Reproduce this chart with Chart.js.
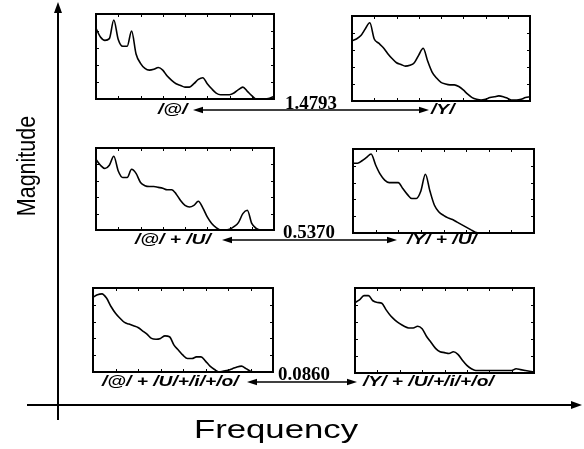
<!DOCTYPE html>
<html>
<head>
<meta charset="utf-8">
<script src="https://cdn.jsdelivr.net/npm/chart.js@4.4.1/dist/chart.umd.min.js"></script>
<style>
  html, body { margin: 0; padding: 0; background: #fff; }
  #wrap { position: relative; width: 584px; height: 449px; overflow: hidden; }
  #wrap canvas { position: absolute; }
</style>
</head>
<body>
<div id="wrap">
  <canvas id="frame" width="584" height="449" style="left:0;top:0"></canvas>
  <canvas id="p1"></canvas>
  <canvas id="p2"></canvas>
  <canvas id="p3"></canvas>
  <canvas id="p4"></canvas>
  <canvas id="p5"></canvas>
  <canvas id="p6"></canvas>
</div>
<script>
// frequency bins shared by all six spectra
const freqBins = [0,1,2,3,4,5,6,7,8,9,10,11,12,13,14,15,16,17,18,19,20,
  21,22,23,24,25,26,27,28,29,30,31,32,33,34,35,36,37,38,39,40];

// normalised magnitude, left column (/@/ ...)
const magAt = [0.83,0.73,0.69,0.71,0.93,0.70,0.62,0.62,0.80,0.53,0.42,0.36,0.34,0.35,0.37,0.34,
  0.27,0.22,0.18,0.16,0.14,0.14,0.18,0.23,0.25,0.18,0.12,0.07,0.05,0.05,0.05,0.07,0.11,0.14,
  0.09,0.04,0.0,0.0,0.0,0.01,0.03];
const magAtU = [0.86,0.79,0.75,0.79,0.90,0.72,0.64,0.64,0.74,0.69,0.58,0.54,0.53,0.53,0.52,0.51,
  0.49,0.49,0.44,0.36,0.30,0.28,0.30,0.35,0.27,0.16,0.08,0.03,0.0,0.0,0.01,0.04,0.09,0.20,
  0.24,0.08,0.02,0.0,0.0,0.0,0.0];
const magAtUio = [0.89,0.92,0.93,0.88,0.78,0.70,0.64,0.59,0.57,0.55,0.53,0.49,0.45,0.40,0.39,0.40,
  0.43,0.42,0.32,0.26,0.20,0.16,0.16,0.18,0.18,0.13,0.07,0.03,0.0,0.01,0.02,0.04,0.06,0.07,
  0.04,0.01,0.0,0.0,0.0,0.0,0.0];

// normalised magnitude, right column (/Y/ ...)
const magY = [0.71,0.73,0.77,0.85,0.92,0.73,0.68,0.63,0.56,0.50,0.45,0.43,0.41,0.42,0.45,0.54,
  0.62,0.47,0.34,0.27,0.22,0.20,0.19,0.19,0.17,0.13,0.08,0.04,0.02,0.01,0.02,0.04,0.05,0.06,
  0.05,0.03,0.01,0.01,0.02,0.04,0.05];
const magYU = [0.83,0.83,0.86,0.90,0.94,0.81,0.70,0.63,0.60,0.60,0.60,0.53,0.46,0.41,0.41,0.50,
  0.70,0.50,0.33,0.25,0.21,0.18,0.16,0.13,0.10,0.07,0.04,0.01,0.0,0.0,0.0,0.0,0.0,0.0,
  0.0,0.0,0.0,0.0,0.0,0.0,0.0];
const magYUio = [0.83,0.86,0.91,0.91,0.85,0.83,0.82,0.74,0.67,0.62,0.58,0.55,0.53,0.53,0.55,0.52,
  0.43,0.36,0.29,0.25,0.24,0.23,0.25,0.22,0.15,0.09,0.05,0.03,0.03,0.03,0.03,0.03,0.03,0.03,
  0.03,0.03,0.05,0.04,0.03,0.02,0.01];

const leftLabels = ['/@/', '/@/ + /U/', '/@/ + /U/+/i/+/o/'];
const rightLabels = ['/Y/', '/Y/ + /U/', '/Y/ + /U/+/i/+/o/'];
const distances = ['1.4793', '0.5370', '0.0860'];
const yTickValues = [0.2, 0.4, 0.6, 0.8];

// panel boxes (plot frame in page pixels)
const panels = [
  { id: 'p1', x: 96,  y: 14,  w: 178, h: 85, values: magAt },
  { id: 'p2', x: 352, y: 16,  w: 178, h: 85, values: magY },
  { id: 'p3', x: 96,  y: 148, w: 178, h: 82, values: magAtU },
  { id: 'p4', x: 353, y: 149, w: 181, h: 84, values: magYU },
  { id: 'p5', x: 93,  y: 288, w: 180, h: 84, values: magAtUio },
  { id: 'p6', x: 355, y: 288, w: 179, h: 85, values: magYUio }
];

// box + inward ticks
const boxTicks = {
  id: 'boxTicks',
  afterDatasetsDraw(chart) {
    const { ctx, chartArea: a, scales } = chart;
    ctx.save();
    ctx.strokeStyle = '#000';
    ctx.lineWidth = 1;
    ctx.beginPath();
    for (let i = 5; i < freqBins.length - 1; i += 5) {
      const px = Math.round(scales.x.getPixelForValue(i)) + 0.5;
      ctx.moveTo(px, a.top); ctx.lineTo(px, a.top + 3);
      ctx.moveTo(px, a.bottom); ctx.lineTo(px, a.bottom - 3);
    }
    yTickValues.forEach(v => {
      const py = Math.round(scales.y.getPixelForValue(v)) + 0.5;
      ctx.moveTo(a.left, py); ctx.lineTo(a.left + 3, py);
      ctx.moveTo(a.right, py); ctx.lineTo(a.right - 3, py);
    });
    ctx.stroke();
    ctx.lineWidth = 2;
    ctx.strokeRect(a.left, a.top, a.right - a.left, a.bottom - a.top);
    ctx.restore();
  }
};

panels.forEach(p => {
  const cv = document.getElementById(p.id);
  cv.width = p.w + 4; cv.height = p.h + 4;
  cv.style.left = (p.x - 2) + 'px';
  cv.style.top = (p.y - 2) + 'px';
  new Chart(cv, {
    type: 'line',
    data: {
      labels: freqBins,
      datasets: [{ data: p.values, borderColor: '#000', borderWidth: 1.6, pointRadius: 0,
        cubicInterpolationMode: 'monotone', fill: false }]
    },
    options: {
      responsive: false, animation: false,
      layout: { padding: 2 },
      plugins: { legend: { display: false }, tooltip: { enabled: false } },
      scales: {
        x: { display: false, offset: false },
        y: { display: false, min: 0, max: 1 }
      }
    },
    plugins: [boxTicks]
  });
});

function stretchText(ctx, txt, x, y, font, sx, align) {
  ctx.save();
  ctx.font = font;
  ctx.textAlign = align || 'left';
  ctx.translate(x, y);
  ctx.scale(sx, 1);
  ctx.fillText(txt, 0, 0);
  ctx.restore();
}

function arrowHead(ctx, x, y, dx, dy, len, half) {
  // tip at (x,y), pointing along (dx,dy)
  const nx = -dy, ny = dx;
  ctx.beginPath();
  ctx.moveTo(x, y);
  ctx.lineTo(x - dx * len + nx * half, y - dy * len + ny * half);
  ctx.lineTo(x - dx * len - nx * half, y - dy * len - ny * half);
  ctx.closePath();
  ctx.fill();
}

function doubleArrow(ctx, x1, x2, y) {
  ctx.lineWidth = 1.5;
  ctx.beginPath();
  ctx.moveTo(x1 + 6, y); ctx.lineTo(x2 - 6, y);
  ctx.stroke();
  arrowHead(ctx, x1, y, -1, 0, 10, 3.2);
  arrowHead(ctx, x2, y, 1, 0, 10, 3.2);
}

// rows: arrow ends, label positions
const rows = [
  { ay: 110, ax1: 193, ax2: 429, lx: 158, rx: 431, numX: 311, numY: 109 },
  { ay: 240, ax1: 222, ax2: 397, lx: 135, rx: 407, numX: 309, numY: 238 },
  { ay: 382, ax1: 247, ax2: 357, lx: 102, rx: 363, numX: 304, numY: 380 }
];

const frameDecor = {
  id: 'frameDecor',
  afterDraw(chart) {
    const ctx = chart.ctx;
    ctx.save();
    ctx.fillStyle = '#000';
    ctx.strokeStyle = '#000';

    // main axes
    ctx.lineWidth = 2;
    ctx.beginPath();
    ctx.moveTo(58, 420); ctx.lineTo(58, 10);
    ctx.moveTo(27, 405); ctx.lineTo(574, 405);
    ctx.stroke();
    arrowHead(ctx, 58, 2, 0, -1, 11, 4);
    arrowHead(ctx, 582, 405, 1, 0, 11, 4);

    // axis titles
    stretchText(ctx, 'Frequency', 276, 438, '25px "Liberation Sans", Arial, sans-serif', 1.39, 'center');
    ctx.save();
    ctx.translate(35, 166);
    ctx.rotate(-Math.PI / 2);
    ctx.scale(0.86, 1);
    ctx.font = '25px "Liberation Sans", Arial, sans-serif';
    ctx.textAlign = 'center';
    ctx.fillText('Magnitude', 0, 0);
    ctx.restore();

    // comparison rows
    rows.forEach((r, i) => {
      doubleArrow(ctx, r.ax1, r.ax2, r.ay);
      ctx.textBaseline = 'middle';
      stretchText(ctx, leftLabels[i], r.lx, r.ay, 'italic bold 15px "Liberation Sans", Arial, sans-serif', 1.28, 'left');
      stretchText(ctx, rightLabels[i], r.rx, r.ay, 'italic bold 15px "Liberation Sans", Arial, sans-serif', 1.28, 'left');
      ctx.textBaseline = 'alphabetic';
      stretchText(ctx, distances[i], r.numX, r.numY, 'bold 18px "Liberation Serif", "Times New Roman", serif', 1.05, 'center');
    });
    ctx.restore();
  }
};

new Chart(document.getElementById('frame'), {
  type: 'scatter',
  data: { datasets: [] },
  options: {
    responsive: false, animation: false,
    plugins: { legend: { display: false }, tooltip: { enabled: false } },
    scales: { x: { display: false }, y: { display: false } }
  },
  plugins: [frameDecor]
});
</script>
</body>
</html>
